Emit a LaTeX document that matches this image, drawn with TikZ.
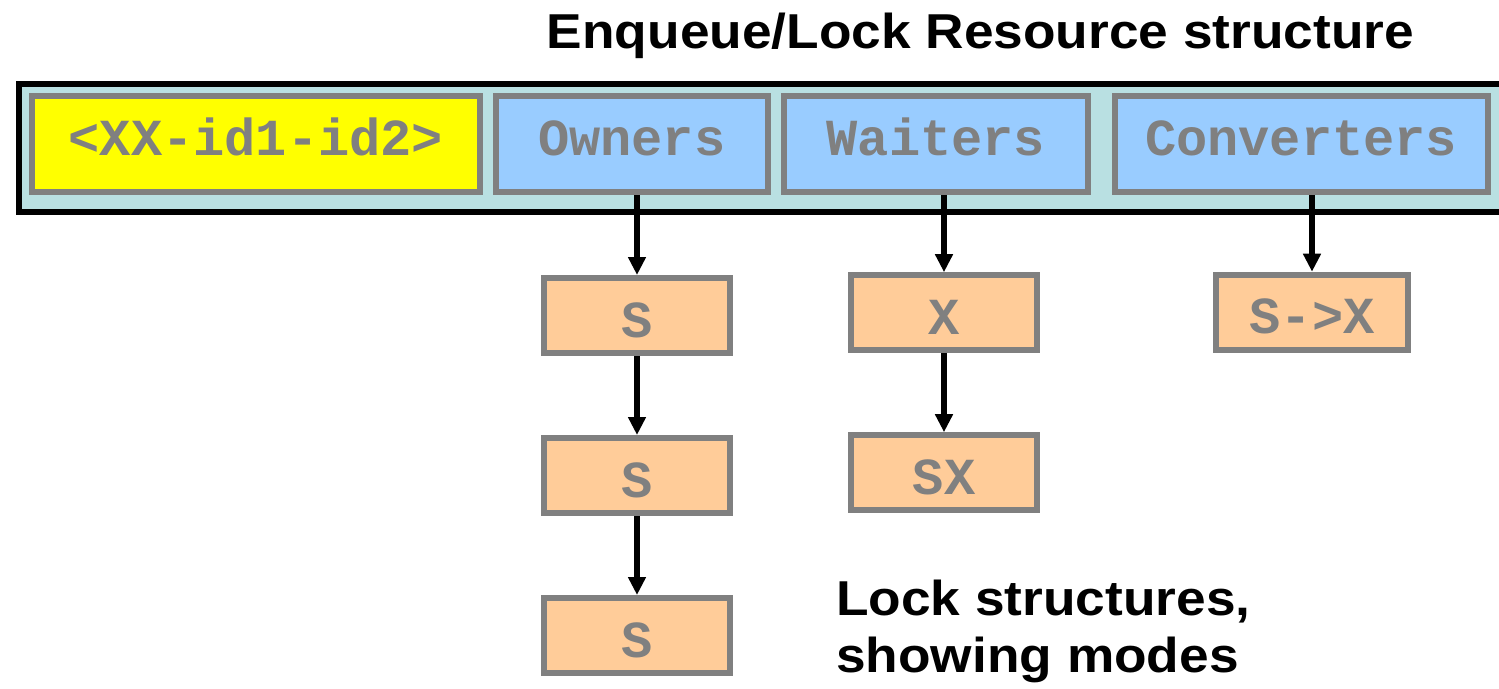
\documentclass[tikz,border=0pt]{standalone}
\usepackage{fontspec}
\setmainfont{Liberation Sans}
\newfontfamily\capfont[FakeStretch=1.087]{Liberation Sans}
\newfontfamily\codefont{Liberation Mono}
\usetikzlibrary{arrows.meta}
\definecolor{boxgray}{HTML}{808080}
\definecolor{rescyan}{HTML}{B9E0E2}
\definecolor{idyellow}{HTML}{FFFF00}
\definecolor{listblue}{HTML}{99CCFF}
\definecolor{lockorange}{HTML}{FFCC99}
\tikzset{
  field/.style={draw=boxgray, line width=6pt, inner sep=0pt, text=boxgray,
    font=\codefont\bfseries\fontsize{52}{60}\selectfont, text height=22pt, text depth=0pt},
  idfield/.style={field, fill=idyellow},
  listfield/.style={field, fill=listblue},
  lockbox/.style={field, fill=lockorange, minimum width=186pt, minimum height=75pt,
    text height=43pt, text depth=0pt},
  link/.style={line width=5.5pt, -{Triangle[width=17pt,length=18pt]}},
  caption/.style={font=\capfont\bfseries\fontsize{49}{57}\selectfont, inner sep=0pt}
}
\begin{document}
\begin{tikzpicture}[x=1pt,y=-1pt]
\useasboundingbox (0,0) rectangle (1499,688);
\clip (0,0) rectangle (1499,688);
% resource structure
\node[draw=black, fill=rescyan, line width=6pt, inner sep=0pt, anchor=north west,
  minimum width=1600pt, minimum height=127.7pt] (res) at (16,81) {};
\node[idfield, minimum width=447.4pt, minimum height=96pt] (id) at (256,144.2) {<XX-id1-id2>};
\node[listfield, minimum width=272.3pt, minimum height=96pt] (owners) at (631.8,144.2) {Owners};
\node[listfield, minimum width=304pt, minimum height=96pt] (waiters) at (936,144.2) {Waiters};
\node[listfield, minimum width=373pt, minimum height=96pt] (converters) at (1301.2,144.2) {Converters};
% lock structures
\node[lockbox] (s1) at (637,315.5) {S};
\node[lockbox] (s2) at (637,475.5) {S};
\node[lockbox] (s3) at (637,635.5) {S};
\node[lockbox] (x1) at (944,312.7) {X};
\node[lockbox] (sx) at (944,472.7) {SX};
\node[lockbox, minimum width=191.7pt] (conv) at (1312,312.2) {S->X};
% links
\draw[link] (owners.south -| s1.north) -- (s1.north);
\draw[link] (s1) -- (s2);
\draw[link] (s2) -- (s3);
\draw[link] (waiters.south -| x1.north) -- (x1.north);
\draw[link] (x1) -- (sx);
\draw[link] (converters.south -| conv.north) -- (conv.north);
% captions
\node[caption, anchor=base] (title) at (980.5,48) {Enqueue/Lock Resource structure};
\node[caption, anchor=north west, align=left] (locks) at (836,580) {Lock structures,\\showing modes};
\end{tikzpicture}
\end{document}
